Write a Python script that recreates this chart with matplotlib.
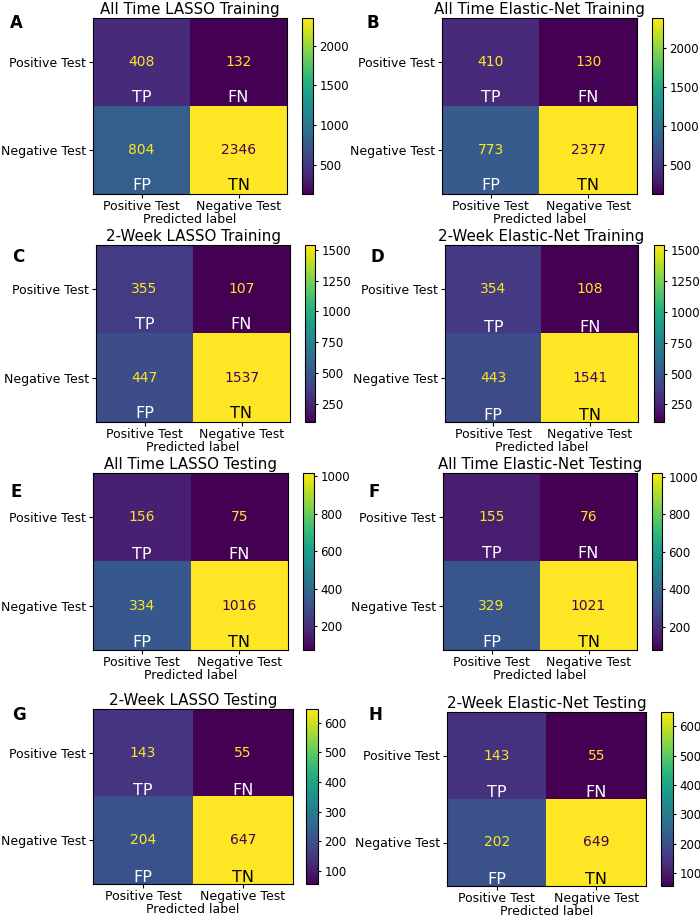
import matplotlib
matplotlib.use("Agg")
import matplotlib.pyplot as plt
import numpy as np

titles = ["All Time LASSO Training", "All Time Elastic-Net Training",
          "2-Week LASSO Training", "2-Week Elastic-Net Training",
          "All Time LASSO Testing", "All Time Elastic-Net Testing",
          "2-Week LASSO Testing", "2-Week Elastic-Net Testing"]
letters = ["A", "B", "C", "D", "E", "F", "G", "H"]
tp = [408, 410, 355, 354, 156, 155, 143, 143]
fn = [132, 130, 107, 108, 75, 76, 55, 55]
fp = [804, 773, 447, 443, 334, 329, 204, 202]
tn = [2346, 2377, 1537, 1541, 1016, 1021, 647, 649]
class_labels = ["Positive Test", "Negative Test"]
cell_tags = [["TP", "FN"], ["FP", "TN"]]

W, H = 700, 917
# pixel boxes: (x0, y0, x1, y1) for matrix, colorbar x0, x1, letter x, y
boxes = [
    (93, 18, 287, 194, 302, 313, 10, 23),
    (442, 18, 637, 194, 652, 663, 367, 23),
    (96, 245, 290, 422, 305, 315, 12, 257),
    (445, 245, 638, 422, 654, 664, 370, 257),
    (93, 473, 288, 650, 303, 314, 10, 492),
    (443, 473, 637, 650, 652, 662, 368, 492),
    (93, 709, 293, 884, 306, 318, 12, 715),
    (447, 712, 646, 886, 661, 673, 368, 715),
]
tag_offset = [0.40, 0.40, 0.40, 0.43, 0.42, 0.41, 0.43, 0.43]

fig = plt.figure(figsize=(7, 9.17), dpi=100)
cmap = plt.get_cmap("viridis")

for i in range(8):
    x0, y0, x1, y1, c0, c1, lx, ly = boxes[i]
    ax = fig.add_axes([x0 / W, 1 - y1 / H, (x1 - x0) / W, (y1 - y0) / H])
    cax = fig.add_axes([c0 / W, 1 - y1 / H, (c1 - c0) / W, (y1 - y0) / H])
    cm = np.array([[tp[i], fn[i]], [fp[i], tn[i]]])
    im = ax.imshow(cm, cmap=cmap, aspect="auto")
    thresh = (cm.max() + cm.min()) / 2.0
    for r in range(2):
        for c in range(2):
            v = cm[r, c]
            col = cmap(0) if v > thresh else cmap(1.0)
            ax.text(c, r, str(v), ha="center", va="center", color=col, fontsize=10)
            tcol = "black" if v > thresh else "white"
            ax.text(c, r + tag_offset[i], cell_tags[r][c], ha="center", va="center",
                    color=tcol, fontsize=11.5)
    ax.set_xticks([0, 1])
    ax.set_xticklabels(class_labels, fontsize=9)
    ax.set_yticks([0, 1])
    ax.set_yticklabels(class_labels, fontsize=9)
    ax.tick_params(length=3, pad=2)
    ax.tick_params(axis="x", pad=1.5)
    ax.set_xlabel("Predicted label", fontsize=9, labelpad=0)
    ax.set_title(titles[i], fontsize=10.8, pad=3)
    cb = fig.colorbar(im, cax=cax)
    cb.ax.tick_params(labelsize=8.5, length=2.5, pad=2)
    cb.outline.set_linewidth(0.8)
    fig.text(lx / W, 1 - ly / H, letters[i], fontsize=12, fontweight="bold",
             ha="left", va="center")

fig.savefig("out.png", dpi=100)
